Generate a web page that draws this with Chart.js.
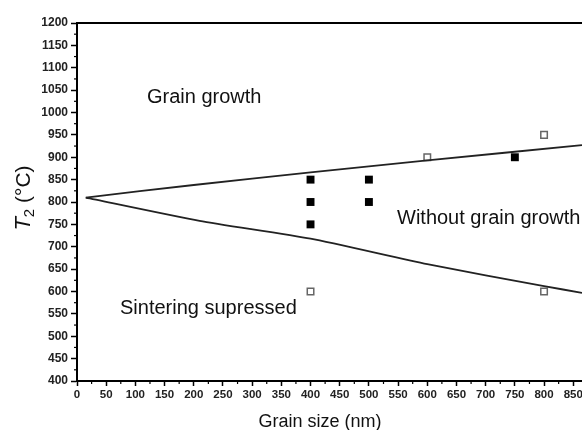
<!DOCTYPE html>
<html>
<head>
<meta charset="utf-8">
<script src="https://cdn.jsdelivr.net/npm/chart.js@4/dist/chart.umd.min.js"></script>
<style>
  html, body { margin: 0; padding: 0; background: #fff; }
  #wrap { width: 582px; height: 430px; overflow: hidden; position: relative; }
  #chart { position: absolute; left: 0; top: 0; }
</style>
</head>
<body>
<div id="wrap"><canvas id="chart" width="620" height="430"></canvas></div>
<script>
// boundary lines between the regions
const upperLineX = [15, 200, 400, 600, 865];
const upperLineY = [810, 838, 866, 893, 927];
const lowerLineX = [15, 210, 400, 600, 800, 865];
const lowerLineY = [810, 758, 718, 661, 612, 597];

// measured points
const filledX = [400, 400, 400, 500, 500, 750];
const filledY = [850, 800, 750, 850, 800, 900];
const hollowX = [600, 800, 400, 800];
const hollowY = [900, 950, 600, 600];

// axis ticks
const xTicks = [0, 50, 100, 150, 200, 250, 300, 350, 400, 450, 500, 550, 600, 650, 700, 750, 800, 850];
const yTicks = [400, 450, 500, 550, 600, 650, 700, 750, 800, 850, 900, 950, 1000, 1050, 1100, 1150, 1200];

const regionLabels = ['Grain growth', 'Without grain growth', 'Sintering supressed'];
const regionLabelX = [147, 397, 120];
const regionLabelY = [103, 224, 314];

const toPoints = (xs, ys) => xs.map((x, i) => ({ x: x, y: ys[i] }));

// minor ticks, frame top line, axis title and region labels
const extras = {
  id: 'extras',
  afterDraw(chart) {
    const ctx = chart.ctx;
    const xs = chart.scales.x, ys = chart.scales.y;
    const area = chart.chartArea;
    ctx.save();
    ctx.strokeStyle = '#000';
    ctx.lineWidth = 1.2;
    for (let v = 25; v < 865; v += 50) {
      const px = xs.getPixelForValue(v);
      ctx.beginPath();
      ctx.moveTo(px, area.bottom);
      ctx.lineTo(px, area.bottom + 3);
      ctx.stroke();
    }
    for (let v = 425; v < 1200; v += 50) {
      const py = ys.getPixelForValue(v);
      ctx.beginPath();
      ctx.moveTo(area.left, py);
      ctx.lineTo(area.left - 3, py);
      ctx.stroke();
    }
    // top frame
    ctx.lineWidth = 2;
    ctx.beginPath();
    ctx.moveTo(area.left - 1, area.top);
    ctx.lineTo(area.right + 40, area.top);
    ctx.stroke();

    // y title: T2 (°C)
    ctx.translate(22, 198);
    ctx.rotate(-Math.PI / 2);
    ctx.fillStyle = '#111';
    ctx.textBaseline = 'alphabetic';
    const parts = [
      { t: 'T', f: 'italic 22px Liberation Sans', dy: 0 },
      { t: '2', f: '15px Liberation Sans', dy: 4 },
      { t: ' (°C)', f: '21px Liberation Sans', dy: 0 }
    ];
    let total = 0;
    parts.forEach(p => { ctx.font = p.f; p.w = ctx.measureText(p.t).width; total += p.w; });
    let cx = -total / 2;
    parts.forEach(p => {
      ctx.font = p.f;
      ctx.fillText(p.t, cx, 8 + p.dy);
      cx += p.w;
    });
    ctx.restore();

    ctx.save();
    ctx.fillStyle = '#111';
    ctx.font = '20px Liberation Sans';
    ctx.textBaseline = 'alphabetic';
    regionLabels.forEach((t, i) => ctx.fillText(t, regionLabelX[i], regionLabelY[i]));
    ctx.font = '18px Liberation Sans';
    ctx.textAlign = 'center';
    ctx.fillText('Grain size (nm)', 320, 427);
    ctx.restore();
  }
};

new Chart(document.getElementById('chart'), {
  type: 'scatter',
  data: {
    datasets: [
      {
        type: 'line', data: toPoints(upperLineX, upperLineY),
        borderColor: '#222', borderWidth: 1.8, pointRadius: 0, tension: 0.2, fill: false
      },
      {
        type: 'line', data: toPoints(lowerLineX, lowerLineY),
        borderColor: '#222', borderWidth: 1.8, pointRadius: 0, tension: 0.2, fill: false
      },
      {
        data: toPoints(filledX, filledY), pointStyle: 'rect', pointRadius: 5.6,
        backgroundColor: '#000', borderColor: '#000', borderWidth: 0
      },
      {
        data: toPoints(hollowX, hollowY), pointStyle: 'rect', pointRadius: 4.6,
        backgroundColor: '#fff', borderColor: '#666', borderWidth: 1.5
      }
    ]
  },
  options: {
    responsive: false,
    animation: false,
    layout: { padding: { top: 23, right: 38, left: 0, bottom: 0 } },
    plugins: { legend: { display: false }, tooltip: { enabled: false } },
    scales: {
      x: {
        type: 'linear', min: 0, max: 865,
        afterBuildTicks: s => { s.ticks = xTicks.map(v => ({ value: v })); },
        afterFit: s => { s.height = 49; },
        ticks: {
          color: '#222', font: { family: 'Liberation Sans', size: 11.5, weight: 'bold' },
          padding: 2, maxRotation: 0, autoSkip: false, callback: v => String(v)
        },
        grid: { drawOnChartArea: false, drawTicks: true, tickLength: 5, tickColor: '#000', tickWidth: 1.5 },
        border: { display: true, color: '#000', width: 2 }
      },
      y: {
        min: 400, max: 1200,
        afterBuildTicks: s => { s.ticks = yTicks.map(v => ({ value: v })); },
        afterFit: s => { s.width = 77; },
        ticks: {
          color: '#222', font: { family: 'Liberation Sans', size: 12, weight: 'bold' },
          padding: 3, callback: v => String(v)
        },
        grid: { drawOnChartArea: false, drawTicks: true, tickLength: 6, tickColor: '#000', tickWidth: 1.5 },
        border: { display: true, color: '#000', width: 2 }
      }
    }
  },
  plugins: [extras]
});
</script>
</body>
</html>
